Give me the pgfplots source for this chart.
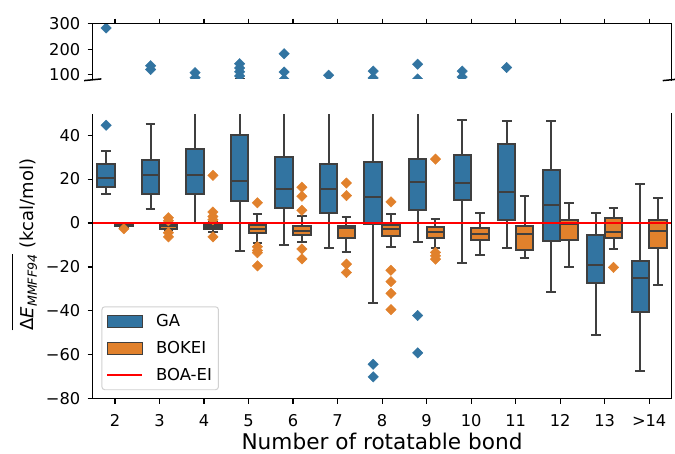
\documentclass[border=0pt]{standalone}
\usepackage{fontspec}
\setmainfont{DejaVu Sans}
\usepackage{pgfplots}
\pgfplotsset{compat=1.18}
\usepgfplotslibrary{statistics}
\definecolor{gablue}{RGB}{50,116,161}
\definecolor{bkorange}{RGB}{225,129,44}
\definecolor{edgegray}{RGB}{63,63,63}

\pgfplotsset{
  boxleg/.style={legend image code/.code={\draw[sharp corners,fill opacity=1,##1] (0bp,-5.8bp) rectangle (35bp,5.8bp);}},
  lineleg/.style={legend image code/.code={\draw[sharp corners,##1] (0bp,0bp) -- (35bp,0bp);}},
  common/.style={
    width=580.4bp, scale only axis,
    xmin=-0.5, xmax=12.5,
    xtick={0,1,2,3,4,5,6,7,8,9,10,11,12},
    tick align=outside, major tick length=5bp,
    tick style={black, line width=1.1bp},
    axis line style={black, line width=1.3bp},
    tick label style={font=\fontsize{16.3bp}{19bp}\selectfont},
    yticklabel style={xshift=-4bp},
    clip marker paths=true,
  },
}

\newcommand{\bx}[7]{%
  \addplot[forget plot, draw=edgegray, line width=2bp,
    boxplot/draw direction=y,
    boxplot/every box/.style={draw=edgegray, fill=#2, line width=2bp},
    boxplot/every whisker/.style={draw=edgegray, line width=2bp},
    boxplot/every median/.style={draw=edgegray, line width=2bp},
    boxplot prepared={draw position=#1, box extend=0.39, whisker extend=0.22,
      lower whisker=#3, lower quartile=#4, median=#5,
      upper quartile=#6, upper whisker=#7}] coordinates {};%
}

\newcommand{\alldata}{%
  % GA: pos, colour, lower whisker, Q1, median, Q3, upper whisker
  \bx{-0.2}{gablue}{13.0}{16.4}{20.5}{26.8}{32.9}
  \bx{0.8}{gablue}{6.2}{13.3}{22.0}{28.8}{45.1}
  \bx{1.8}{gablue}{0.1}{13.3}{21.7}{33.8}{60}
  \bx{2.8}{gablue}{-12.7}{10.0}{19.0}{40.1}{82}
  \bx{3.8}{gablue}{-10.0}{6.9}{15.5}{29.9}{62}
  \bx{4.8}{gablue}{-11.5}{4.7}{15.5}{26.8}{58}
  \bx{5.8}{gablue}{-36.3}{-0.3}{11.9}{27.6}{67}
  \bx{6.8}{gablue}{-8.6}{5.9}{18.6}{29.1}{62}
  \bx{7.8}{gablue}{-18.2}{10.3}{18.0}{30.8}{46.9}
  \bx{8.8}{gablue}{-11.2}{1.4}{14.0}{35.9}{46.6}
  \bx{9.8}{gablue}{-31.5}{-8.1}{8.1}{24.0}{46.5}
  \bx{10.8}{gablue}{-50.8}{-27.3}{-19.3}{-5.4}{4.4}
  \bx{11.8}{gablue}{-67.4}{-40.3}{-25.2}{-17.2}{17.8}
  \addplot[forget plot, gablue, only marks, mark=square*, mark size=3.7bp,
    mark options={rotate=45}] coordinates {
    (-0.2,44.5) (-0.2,78) (-0.2,283)
    (0.8,120) (0.8,135)
    (1.8,88) (1.8,108)
    (2.8,95) (2.8,111) (2.8,126) (2.8,143)
    (3.8,82) (3.8,110) (3.8,182) (3.8,302)
    (4.8,98)
    (5.8,-64.3) (5.8,-70) (5.8,87) (5.8,114)
    (6.8,-42.1) (6.8,-59.1) (6.8,83) (6.8,141)
    (7.8,91) (7.8,114)
    (8.8,128)
  };
  % BOKEI
  \bx{0.2}{bkorange}{-1.8}{-1.3}{-1.0}{-0.4}{0.1}
  \bx{1.2}{bkorange}{-3.3}{-2.6}{-1.5}{-0.8}{0.3}
  \bx{2.2}{bkorange}{-4.1}{-2.5}{-1.6}{-0.9}{0.3}
  \bx{3.2}{bkorange}{-9.0}{-4.6}{-2.5}{-0.8}{3.9}
  \bx{4.2}{bkorange}{-8.6}{-5.6}{-3.5}{-1.4}{3.2}
  \bx{5.2}{bkorange}{-13.1}{-6.6}{-2.2}{-1.2}{2.9}
  \bx{6.2}{bkorange}{-10.9}{-5.9}{-2.9}{-0.9}{3.9}
  \bx{7.2}{bkorange}{-11.2}{-6.6}{-4.1}{-1.8}{1.7}
  \bx{8.2}{bkorange}{-14.6}{-7.8}{-5.1}{-2.1}{4.4}
  \bx{9.2}{bkorange}{-16.0}{-12.2}{-4.8}{-1.4}{12.2}
  \bx{10.2}{bkorange}{-19.8}{-7.8}{-0.6}{1.2}{8.9}
  \bx{11.2}{bkorange}{-11.6}{-6.6}{-3.9}{2.1}{6.9}
  \bx{12.2}{bkorange}{-28.1}{-11.2}{-3.8}{1.5}{11.6}
  \addplot[forget plot, bkorange, only marks, mark=square*, mark size=3.7bp,
    mark options={rotate=45}] coordinates {
    (0.2,-2.6)
    (1.2,2.4) (1.2,1.0) (1.2,-4.4) (1.2,-6.3)
    (2.2,21.7) (2.2,5.0) (2.2,3.0) (2.2,1.5) (2.2,-6.3)
    (3.2,9.2) (3.2,-10.8) (3.2,-12.5) (3.2,-13.5) (3.2,-19.5)
    (4.2,16.3) (4.2,12.2) (4.2,5.8) (4.2,-11.8) (4.2,-16.3)
    (5.2,18.2) (5.2,12.5) (5.2,-18.7) (5.2,-22.5)
    (6.2,9.6) (6.2,-21.5) (6.2,-26.7) (6.2,-32.0) (6.2,-39.4)
    (7.2,29.1) (7.2,-13.4) (7.2,-14.9) (7.2,-16.4)
    (11.2,-20.2)
  };
}

\begin{document}
\begin{tikzpicture}
\begin{axis}[common,
  height=286.5bp,
  ymin=-80, ymax=50,
  ytick={-80,-60,-40,-20,0,20,40},
  yticklabels={−80,−60,−40,−20,0,20,40},
  xticklabels={2,3,4,5,6,7,8,9,10,11,12,13,>14},
  xticklabel style={yshift=-7bp},
  xtick pos=left, ytick pos=left,
  xlabel={Number of rotatable bond},
  xlabel style={font=\fontsize{21.7bp}{26bp}\selectfont,
    at={(axis description cs:0.5,0)}, anchor=base, yshift=-51bp},
  ylabel={\vbox{\hrule height 1.2bp\kern 7.5bp\hbox{Δ\textit{E}\textsubscript{\textit{MMFF94}}}} (kcal/mol)},
  ylabel style={font=\fontsize{18bp}{21bp}\selectfont,
    at={(axis description cs:-0.1025,0.54)}, anchor=base},
  legend cell align=left,
  legend style={at={(0.015,0.03)}, anchor=south west,
    draw=black!18, line width=1bp, rounded corners=3bp,
    fill=white, fill opacity=0.8, text opacity=1, draw opacity=1,
    font=\fontsize{16.5bp}{19bp}\selectfont,
    inner xsep=4.6bp, inner ysep=6bp, row sep=9bp, column sep=11bp,
    nodes={inner sep=2bp}},
]
\coordinate (mainSW) at (rel axis cs:0,0);
\coordinate (mainSE) at (rel axis cs:1,0);
\coordinate (mainNW) at (rel axis cs:0,1);
\coordinate (mainNE) at (rel axis cs:1,1);
\alldata
\addlegendimage{boxleg, fill=gablue, draw=edgegray, line width=1bp}
\addlegendentry{GA}
\addlegendimage{boxleg, fill=bkorange, draw=edgegray, line width=1bp}
\addlegendentry{BOKEI}
\addplot[red, line width=1.8bp, lineleg] coordinates {(-0.5,0) (12.5,0)};
\addlegendentry{BOA-EI}
\end{axis}
% hide the top spine of the lower panel, redraw its right spine
\draw[white, line width=1.8bp] ([xshift=-0.3bp]mainNW) -- ([xshift=0.3bp]mainNE);
\draw[black, line width=1.6bp] (mainSE) -- (mainNE);

\begin{axis}[common,
  at={(0bp,320bp)}, anchor=south west,
  height=56.3bp,
  ymin=80, ymax=300,
  ytick={100,200,300}, yticklabels={100,200,300},
  xticklabels={},
  xtick pos=right, ytick pos=left,
]
\coordinate (topSW) at (rel axis cs:0,0);
\coordinate (topSE) at (rel axis cs:1,0);
\coordinate (topNW) at (rel axis cs:0,1);
\coordinate (topNE) at (rel axis cs:1,1);
\alldata
\end{axis}
% hide the bottom spine of the upper panel, redraw top and right spines
\draw[white, line width=1.8bp] ([xshift=-0.3bp]topSW) -- ([xshift=0.3bp]topSE);
\draw[black, line width=1.6bp, line cap=rect] (topNW) -- (topNE) -- (topSE);
\draw[black, line width=1.5bp] ([shift={(-8.7bp,-0.85bp)}]topSW) -- ([shift={(8.7bp,0.85bp)}]topSW);
\draw[black, line width=1.5bp] ([shift={(-8.7bp,-0.85bp)}]topSE) -- ([shift={(8.7bp,0.85bp)}]topSE);
\pgfresetboundingbox
\path[use as bounding box] ([shift={(-93bp,-55bp)}]mainSW) rectangle ([shift={(584bp,400bp)}]mainSW);
\end{tikzpicture}
\end{document}
